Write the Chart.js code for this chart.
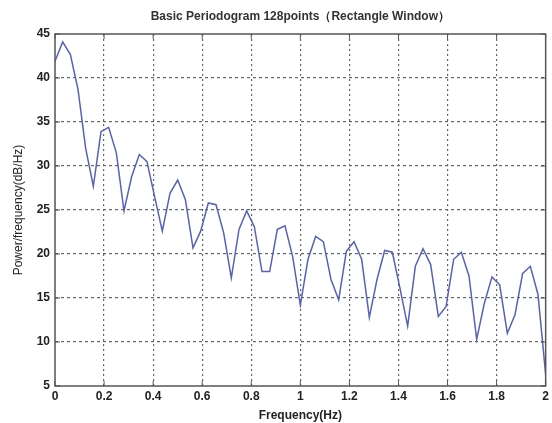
<!DOCTYPE html>
<html>
<head>
<meta charset="utf-8">
<script src="https://cdn.jsdelivr.net/npm/chart.js@4"></script>
<style>
  html, body { margin: 0; padding: 0; background: #fff; }
  #wrap { width: 552px; height: 423px; }
</style>
</head>
<body>
<div id="wrap"><canvas id="psd"></canvas></div>
<script>
// 128-point periodogram, one-sided, 65 bins from 0 to 2 Hz
const binStep = 2 / 64;
const power = [
  41.9, 44.1, 42.7, 38.7, 32.0, 27.7, 33.9, 34.4, 31.5, 24.9,
  28.8, 31.3, 30.5, 26.5, 22.6, 26.9, 28.4, 26.2, 20.7, 22.6,
  25.8, 25.6, 22.4, 17.3, 22.8, 24.9, 23.1, 18.0, 18.0, 22.8,
  23.2, 19.7, 14.2, 19.4, 22.0, 21.4, 17.1, 14.8, 20.3, 21.4,
  19.4, 12.8, 17.1, 20.4, 20.2, 16.1, 11.8, 18.6, 20.6, 18.8,
  12.9, 14.0, 19.4, 20.2, 17.5, 10.3, 14.4, 17.4, 16.5, 11.0,
  13.1, 17.8, 18.6, 15.4, 6.3
];
const freqTicks = [0, 0.2, 0.4, 0.6, 0.8, 1, 1.2, 1.4, 1.6, 1.8, 2];
const powerTicks = [5, 10, 15, 20, 25, 30, 35, 40, 45];

const points = power.map((p, i) => ({ x: i * binStep, y: p }));

// frame box, inward ticks and title like the matlab figure
const matlabFrame = {
  id: 'matlabFrame',
  afterDraw(chart) {
    const { ctx, chartArea: a, scales } = chart;
    ctx.save();
    ctx.strokeStyle = '#555';
    ctx.lineWidth = 1.5;
    ctx.strokeRect(a.left, a.top, a.right - a.left, a.bottom - a.top);
    ctx.lineWidth = 1;
    ctx.beginPath();
    freqTicks.forEach(v => {
      const x = scales.x.getPixelForValue(v);
      ctx.moveTo(x, a.bottom); ctx.lineTo(x, a.bottom - 5);
      ctx.moveTo(x, a.top); ctx.lineTo(x, a.top + 5);
    });
    powerTicks.forEach(v => {
      const y = scales.y.getPixelForValue(v);
      ctx.moveTo(a.left, y); ctx.lineTo(a.left + 5, y);
      ctx.moveTo(a.right, y); ctx.lineTo(a.right - 5, y);
    });
    ctx.stroke();
    ctx.fillStyle = '#333';
    ctx.font = 'bold 12px "Liberation Sans", Arial, sans-serif';
    ctx.textAlign = 'center';
    ctx.textBaseline = 'middle';
    ctx.fillText('Basic Periodogram 128points\uFF08Rectangle Window\uFF09', (a.left + a.right) / 2, 17);
    ctx.restore();
  }
};

const edgeless = (vals) => (c) => {
  const v = c.tick ? c.tick.value : null;
  return (v === vals[0] || v === vals[vals.length - 1]) ? 'rgba(0,0,0,0)' : '#666';
};

new Chart(document.getElementById('psd'), {
  type: 'line',
  data: {
    datasets: [{
      data: points,
      borderColor: '#5662b8',
      borderWidth: 1.5,
      pointRadius: 0,
      fill: false,
      tension: 0,
    }],
  },
  options: {
    responsive: true,
    maintainAspectRatio: false,
    animation: false,
    layout: { padding: { top: 34, right: 5, left: 0, bottom: 0 } },
    plugins: {
      legend: { display: false },
      tooltip: { enabled: false },
    },
    scales: {
      x: {
        type: 'linear',
        min: 0,
        max: 2,
        afterBuildTicks: (s) => { s.ticks = freqTicks.map(v => ({ value: v })); },
        afterFit: (s) => { s.height = 37; },
        border: { display: false, dash: [2, 3] },
        grid: { color: edgeless(freqTicks), lineWidth: 1.2, drawTicks: false },
        ticks: {
          color: '#222',
          padding: 3,
          maxRotation: 0,
          font: { family: '"Liberation Sans", Arial, sans-serif', size: 12, weight: 'bold' },
          callback: (v) => String(v),
        },
        title: {
          display: true,
          text: 'Frequency(Hz)',
          color: '#222',
          padding: { top: 1, bottom: 0 },
          font: { family: '"Liberation Sans", Arial, sans-serif', size: 12, weight: 'bold' },
        },
      },
      y: {
        min: 5,
        max: 45,
        afterBuildTicks: (s) => { s.ticks = powerTicks.map(v => ({ value: v })); },
        afterFit: (s) => { s.width = 55; },
        border: { display: false, dash: [3, 3] },
        grid: { color: edgeless(powerTicks), lineWidth: 1.2, drawTicks: false },
        ticks: {
          color: '#222',
          padding: 5,
          font: { family: '"Liberation Sans", Arial, sans-serif', size: 12, weight: 'bold' },
        },
        title: {
          display: true,
          text: 'Power/frequency(dB/Hz)',
          color: '#222',
          padding: { top: 11, bottom: 0 },
          font: { family: '"Liberation Sans", Arial, sans-serif', size: 12 },
        },
      },
    },
  },
  plugins: [matlabFrame],
});
</script>
</body>
</html>
